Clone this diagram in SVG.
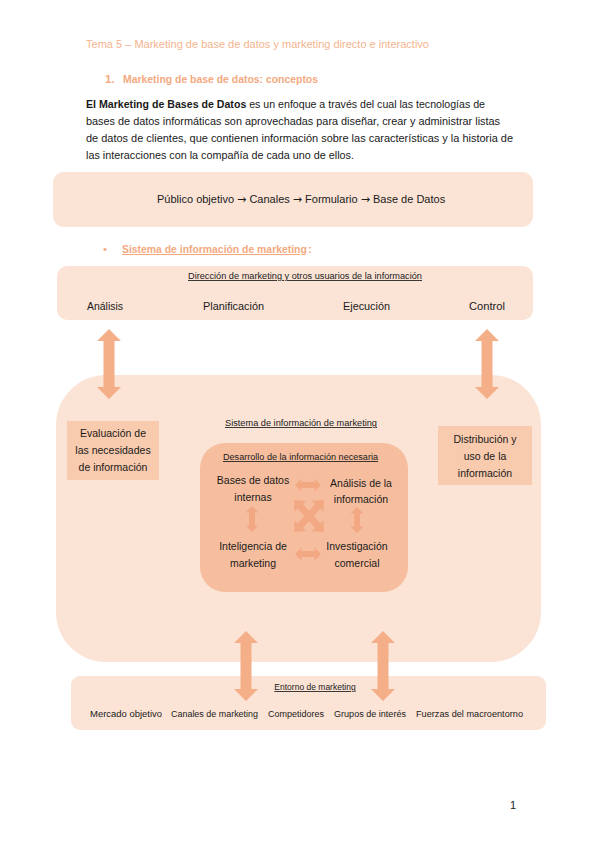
<svg xmlns="http://www.w3.org/2000/svg" xmlns:xlink="http://www.w3.org/1999/xlink" width="599" height="848" viewBox="0 0 599 848">
<style>
text{font-family:"Liberation Sans",Arial,sans-serif;fill:#1a1a1a}
.hdr{fill:#F4B48E;font-size:10.5px}
.h1{fill:#F4A97F;font-size:11.5px;font-weight:bold}
.p{font-size:11px}
.lab{font-size:10.5px;text-anchor:middle}
.sm{font-size:8.5px}
.ul{text-decoration:underline}
.ar{font-family:"DejaVu Sans",sans-serif;font-size:11px}
.pale{fill:#FBE4D6}
.mid{fill:#F8CAAE}
.inner{fill:#F6BE9F}
.arr{fill:#F4AE88}
.sarr{fill:#F2A883}
</style>
<defs>
<path id="bigArrow" d="M0,-35 L12,-23 L5.5,-23 L5.5,23 L12,23 L0,35 L-12,23 L-5.5,23 L-5.5,-23 L-12,-23 Z"/>
<path id="smallArrow" d="M0,-13 L6.5,-6.5 L3,-6.5 L3,6.5 L6.5,6.5 L0,13 L-6.5,6.5 L-3,6.5 L-3,-6.5 L-6.5,-6.5 Z"/>
<path id="xArrow" d="M0,-22 L8,-13 L3.5,-13 L3.5,13 L8,13 L0,22 L-8,13 L-3.5,13 L-3.5,-13 L-8,-13 Z"/>
</defs>

<g id="page-text">
<text class="hdr" x="86" y="48" textLength="343" lengthAdjust="spacingAndGlyphs">Tema 5 – Marketing de base de datos y marketing directo e interactivo</text>
<text class="h1" x="105" y="83">1.</text>
<text class="h1" x="123" y="83" textLength="195" lengthAdjust="spacingAndGlyphs">Marketing de base de datos: conceptos</text>
<text class="p" x="86" y="108" textLength="399" lengthAdjust="spacingAndGlyphs"><tspan font-weight="bold">El Marketing de Bases de Datos</tspan> es un enfoque a través del cual las tecnologías de</text>
<text class="p" x="86" y="125" textLength="414" lengthAdjust="spacingAndGlyphs">bases de datos informáticas son aprovechadas para diseñar, crear y administrar listas</text>
<text class="p" x="86" y="142" textLength="427" lengthAdjust="spacingAndGlyphs">de datos de clientes, que contienen información sobre las características y la historia de</text>
<text class="p" x="86" y="159" textLength="268" lengthAdjust="spacingAndGlyphs">las interacciones con la compañía de cada uno de ellos.</text>
<text class="h1" x="103" y="253" style="font-weight:normal">•</text>
<text class="h1 ul" x="122" y="253" style="font-size:10.4px">Sistema de información de marketing</text>
<text class="h1" x="308" y="253">:</text>
<text x="510" y="809" style="font-size:11px">1</text>
</g>

<g id="flow">
<rect class="pale" x="53" y="172" width="480" height="55" rx="11"/>
<text class="p" x="157" y="203">Público objetivo <tspan class="ar">→</tspan> Canales <tspan class="ar">→</tspan> Formulario <tspan class="ar">→</tspan> Base de Datos</text>
</g>

<g id="direccion">
<rect class="pale" x="57" y="266" width="476" height="54" rx="10"/>
<text class="sm ul" x="188" y="279" textLength="234" lengthAdjust="spacingAndGlyphs">Dirección de marketing y otros usuarios de la información</text>
<text class="p" x="87" y="310" textLength="36" lengthAdjust="spacingAndGlyphs">Análisis</text>
<text class="p" x="203" y="310" textLength="61" lengthAdjust="spacingAndGlyphs">Planificación</text>
<text class="p" x="343" y="310" textLength="47" lengthAdjust="spacingAndGlyphs">Ejecución</text>
<text class="p" x="469" y="310" textLength="36" lengthAdjust="spacingAndGlyphs">Control</text>
</g>

<g id="sistema">
<rect class="pale" x="56" y="375" width="485" height="287" rx="50"/>
<text class="sm ul" x="225" y="426" textLength="152" lengthAdjust="spacingAndGlyphs">Sistema de información de marketing</text>
</g>

<g id="evaluacion">
<rect class="mid" x="67" y="421" width="92" height="59"/>
<text class="lab" x="113" y="437">Evaluación de</text>
<text class="lab" x="113" y="454">las necesidades</text>
<text class="lab" x="113" y="471">de información</text>
</g>

<g id="distribucion">
<rect class="mid" x="438" y="426" width="94" height="59"/>
<text class="lab" x="485" y="443">Distribución y</text>
<text class="lab" x="485" y="460">uso de la</text>
<text class="lab" x="485" y="477">información</text>
</g>

<g id="desarrollo">
<rect class="inner" x="200" y="443" width="208" height="149" rx="25"/>
<text class="sm ul" x="223" y="460" textLength="155" lengthAdjust="spacingAndGlyphs">Desarrollo de la información necesaria</text>
</g>

<g id="bases-datos">
<text class="lab" x="253" y="484">Bases de datos</text>
<text class="lab" x="253" y="501">internas</text>
</g>
<g id="analisis-info">
<text class="lab" x="361" y="487">Análisis de la</text>
<text class="lab" x="361" y="503">información</text>
</g>
<g id="inteligencia">
<text class="lab" x="253" y="550">Inteligencia de</text>
<text class="lab" x="253" y="567">marketing</text>
</g>
<g id="investigacion">
<text class="lab" x="357" y="550">Investigación</text>
<text class="lab" x="357" y="567">comercial</text>
</g>

<g id="entorno">
<rect class="pale" x="71" y="676" width="475" height="54" rx="9"/>
<text class="sm ul" x="315" y="690" text-anchor="middle">Entorno de marketing</text>
<text class="sm" x="90" y="717" textLength="72" lengthAdjust="spacingAndGlyphs">Mercado objetivo</text>
<text class="sm" x="171" y="717" textLength="87" lengthAdjust="spacingAndGlyphs">Canales de marketing</text>
<text class="sm" x="268" y="717" textLength="56" lengthAdjust="spacingAndGlyphs">Competidores</text>
<text class="sm" x="334" y="717" textLength="72" lengthAdjust="spacingAndGlyphs">Grupos de interés</text>
<text class="sm" x="416" y="717" textLength="107" lengthAdjust="spacingAndGlyphs">Fuerzas del macroentorno</text>
</g>

<g id="connectors">
<use xlink:href="#bigArrow" class="arr" transform="translate(109,364)"/>
<use xlink:href="#bigArrow" class="arr" transform="translate(487,364)"/>
<use xlink:href="#bigArrow" class="arr" transform="translate(246,666)"/>
<use xlink:href="#bigArrow" class="arr" transform="translate(383,666)"/>
<use xlink:href="#smallArrow" class="sarr" transform="translate(308,485) rotate(90)"/>
<use xlink:href="#smallArrow" class="sarr" transform="translate(308,554) rotate(90)"/>
<use xlink:href="#smallArrow" class="sarr" transform="translate(252,519)"/>
<use xlink:href="#smallArrow" class="sarr" transform="translate(357,520)"/>
<use xlink:href="#xArrow" class="sarr" transform="translate(309,516) rotate(42)"/>
<use xlink:href="#xArrow" class="sarr" transform="translate(309,516) rotate(-42)"/>
</g>
</svg>
